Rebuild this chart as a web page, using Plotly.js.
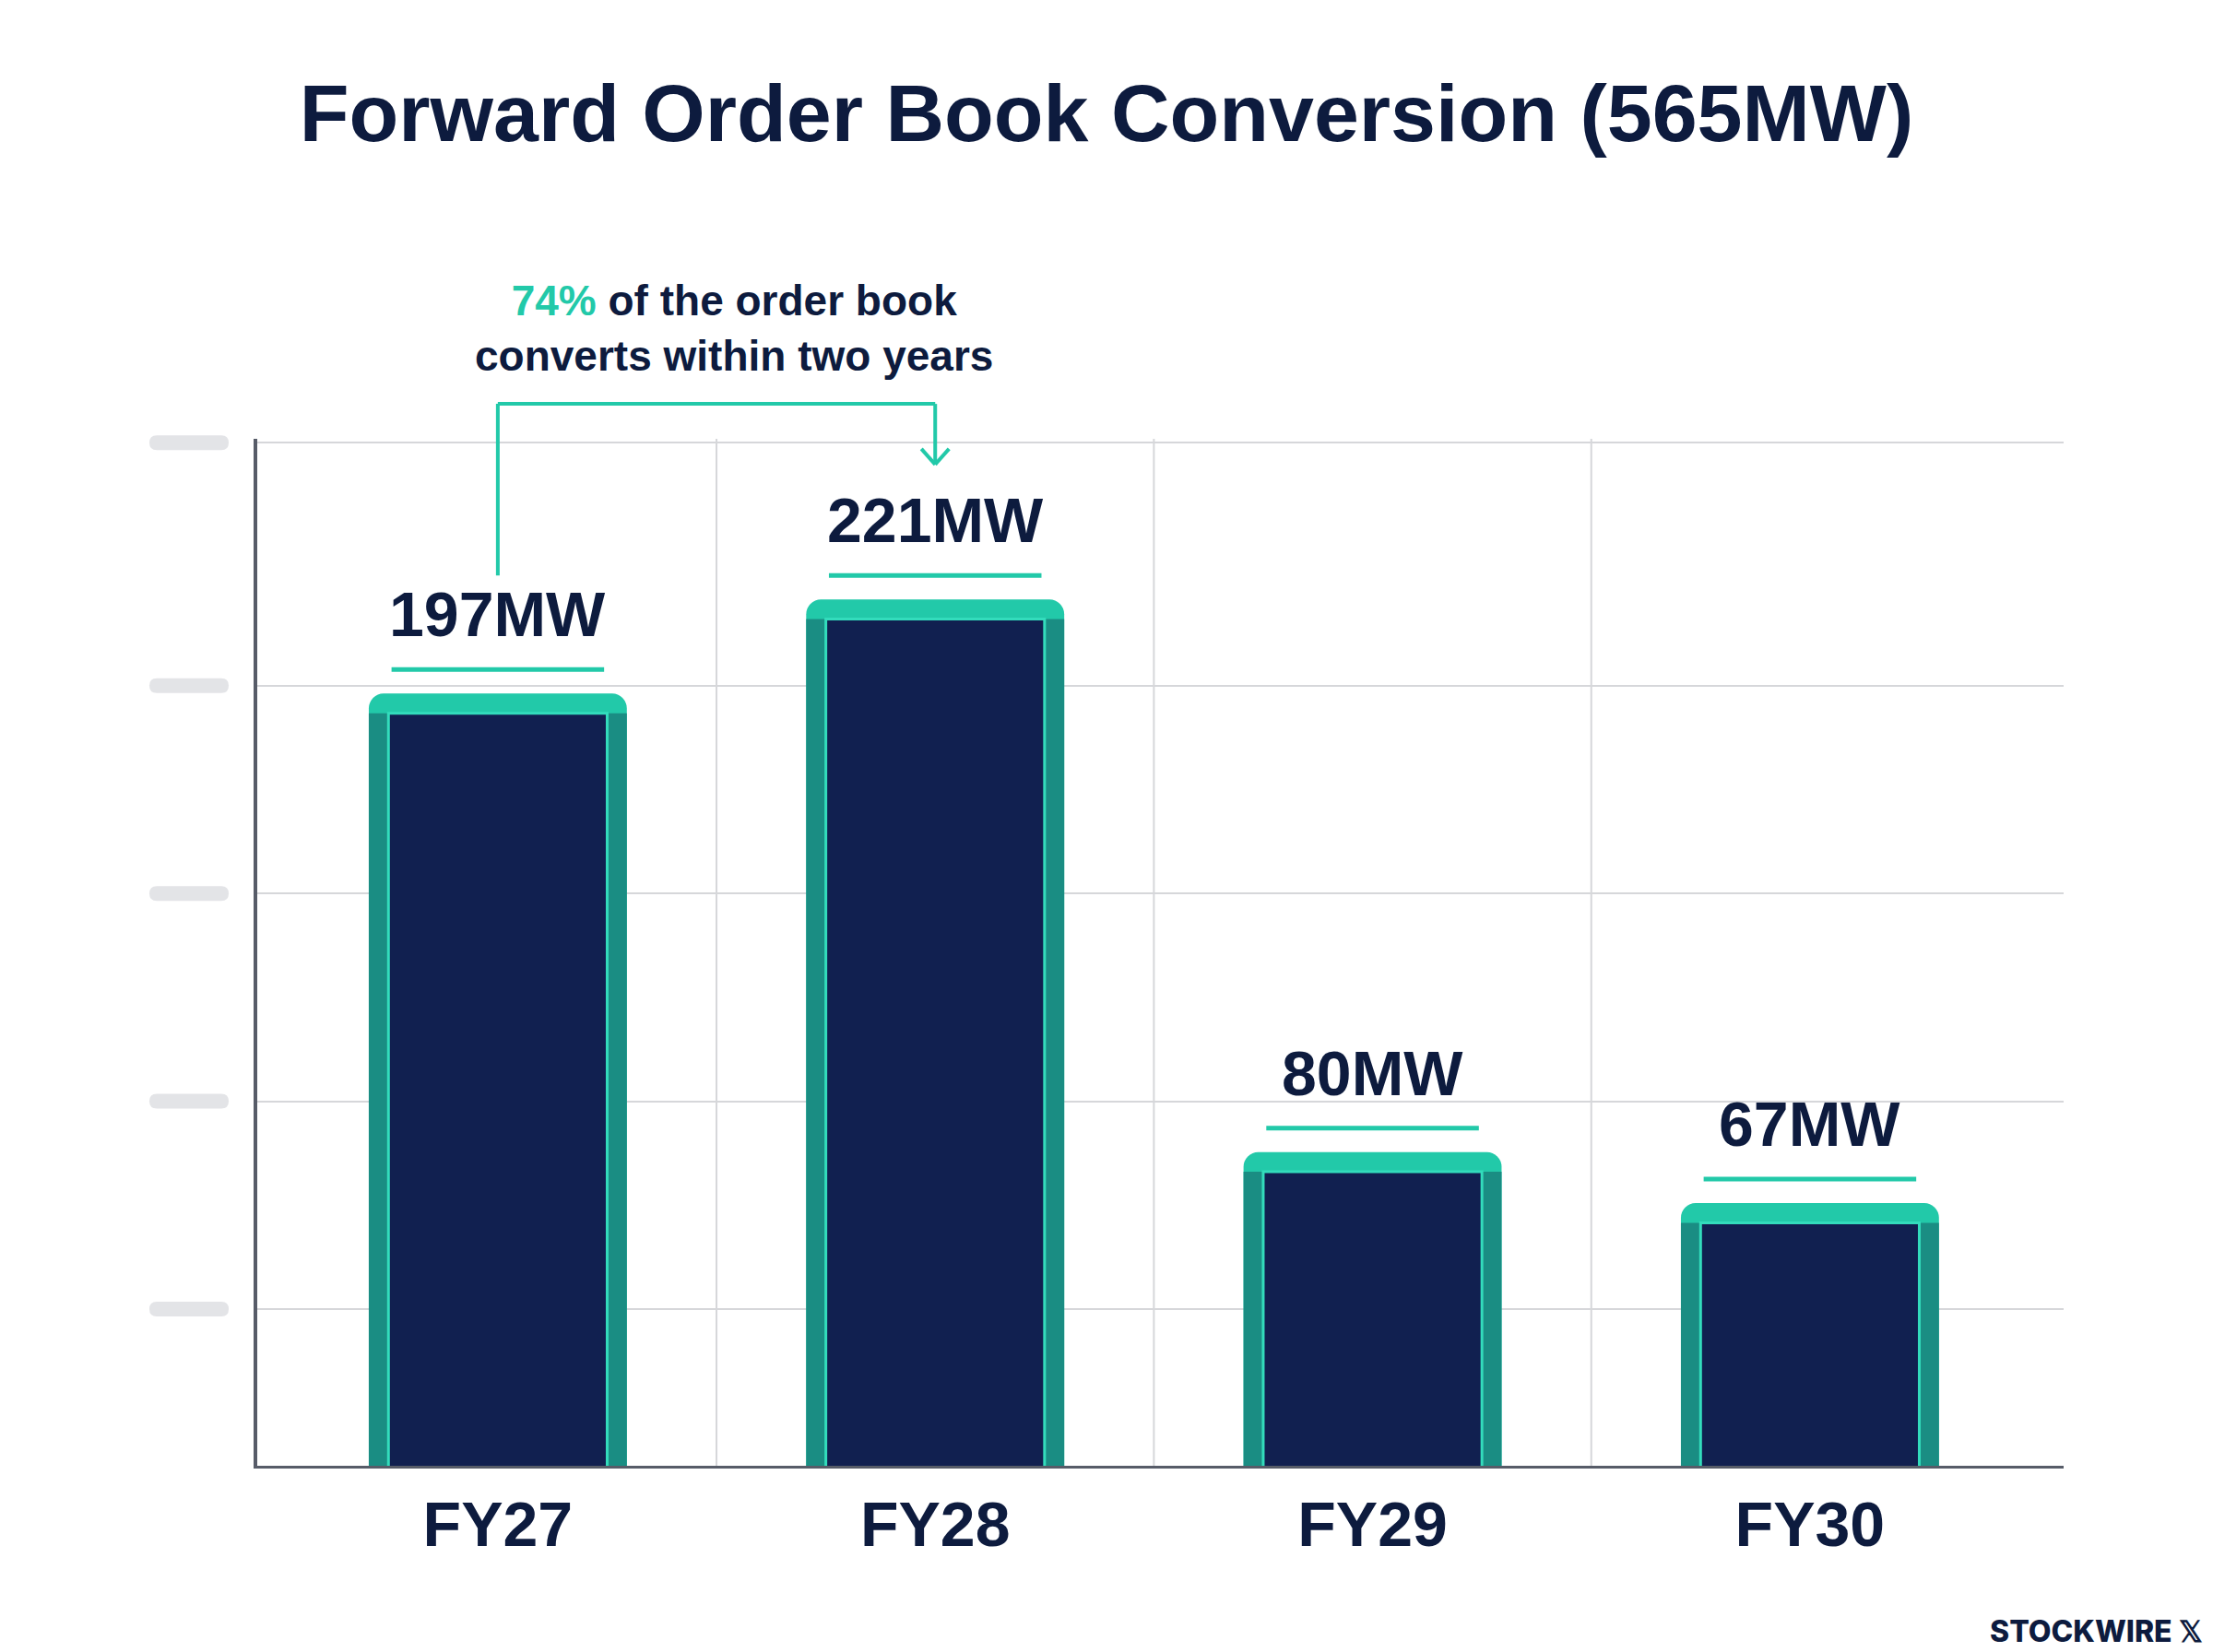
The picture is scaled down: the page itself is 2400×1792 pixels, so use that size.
<!DOCTYPE html>
<html>
<head>
<meta charset="utf-8">
<script src="https://cdn.plot.ly/plotly-3.0.1.min.js"></script>
<style>
  html, body { margin:0; padding:0; background:#ffffff; }
  #chart { width:2400px; height:1792px; }
</style>
</head>
<body>
<div id="chart"></div>
<script>
// ── Data ──────────────────────────────────────────────────────────────────────
const CATEGORIES  = ['FY27', 'FY28', 'FY29', 'FY30'];
const VALUES_MW   = [197, 221, 80, 67];
const GRID_VALUES = [40, 93, 146, 199, 261];   // unlabelled gridlines
const Y_MAX       = 262;
const CONVERT_N   = 2;                          // first two years

// ── Palette / fonts / bar styling ─────────────────────────────────────────────
const NAVY   = '#0d1b3e';
const BAR    = '#112050';
const TEAL   = '#22c9a9';
const TEAL_D = '#1a8d83';
const TEAL_L = '#33dcbc';
const GRID   = '#d6d7da';
const AXISC  = '#575c68';
const PILL   = '#e3e4e7';
const FONT   = 'Liberation Sans, Arial, Helvetica, sans-serif';
const CAP    = 5;          // teal cap thickness (MW units) drawn over each bar
const W_OUT  = 0.59;
const W_IN   = 0.50;

const total   = VALUES_MW.reduce((a, b) => a + b, 0);
const early   = VALUES_MW.slice(0, CONVERT_N).reduce((a, b) => a + b, 0);
const pct     = Math.round(early / total * 100);

// ── Traces: teal frame, darker side walls, navy face ──────────────────────────
const base = { type:'bar', x:CATEGORIES, y:VALUES_MW, hoverinfo:'skip', showlegend:false };
const traces = [
  { ...base, width:W_OUT, marker:{ color:TEAL, cornerradius:16, line:{ width:0 } } },
  { ...base, width:W_OUT, base:-CAP, marker:{ color:TEAL_D, line:{ width:0 } } },
  { ...base, width:W_IN,  base:-CAP, marker:{ color:BAR, line:{ color:TEAL_L, width:3 } } },
];

// ── Shapes: vertical grid, grey tick pills, label underlines, bracket ─────────
const shapes = [];

CATEGORIES.slice(0, -1).forEach((c, i) => {
  shapes.push({ type:'line', layer:'below', xref:'x', yref:'paper',
    x0:i + 0.5, x1:i + 0.5, y0:0, y1:1, line:{ color:GRID, width:2 } });
});

GRID_VALUES.forEach(v => {
  shapes.push({ type:'path', xref:'paper', yref:'paper',
    xsizemode:'pixel', ysizemode:'pixel', xanchor:0, yanchor:v / Y_MAX,
    path:'M -109,-8 L -39,-8 Q -31,-8 -31,0 Q -31,8 -39,8 L -109,8 Q -117,8 -117,0 Q -117,-8 -109,-8 Z',
    fillcolor:PILL, line:{ width:0 } });
});

VALUES_MW.forEach((v, i) => {
  shapes.push({ type:'line', xref:'x', yref:'y', ysizemode:'pixel', yanchor:v,
    x0:i - 0.243, x1:i + 0.243, y0:26, y1:26, line:{ color:TEAL, width:5 } });
});

// bracket from FY27 label to FY28 label
const BR = { lo:0.867, top:1.034, tip:0.975 };
const brLine = { color:TEAL, width:4 };
shapes.push(
  { type:'line', xref:'x', yref:'paper', x0:0, x1:0, y0:BR.lo, y1:BR.top, line:brLine },
  { type:'line', xref:'x', yref:'paper', x0:0, x1:CONVERT_N - 1, y0:BR.top, y1:BR.top, line:brLine },
  { type:'line', xref:'x', yref:'paper', x0:CONVERT_N - 1, x1:CONVERT_N - 1, y0:BR.top, y1:BR.tip, line:brLine },
  { type:'line', xref:'x', yref:'paper', xsizemode:'pixel', ysizemode:'pixel',
    xanchor:CONVERT_N - 1, yanchor:BR.tip, x0:-15, x1:0, y0:17, y1:0, line:brLine },
  { type:'line', xref:'x', yref:'paper', xsizemode:'pixel', ysizemode:'pixel',
    xanchor:CONVERT_N - 1, yanchor:BR.tip, x0:15, x1:0, y0:17, y1:0, line:brLine },
);

// ── Annotations ───────────────────────────────────────────────────────────────
const annotations = VALUES_MW.map((v, i) => ({
  x:CATEGORIES[i], y:v, xref:'x', yref:'y', yanchor:'middle', yshift:86,
  text:v + 'MW', showarrow:false,
  font:{ family:FONT, size:68, weight:700, color:NAVY },
}));

annotations.push({
  x:0.54, y:1.108, xref:'x', yref:'paper', xanchor:'center', yanchor:'middle',
  text:`<span style="color:${TEAL}">${pct}%</span> of the order book<br>converts within two years`,
  showarrow:false, align:'center',
  font:{ family:FONT, size:46, weight:700, color:NAVY },
});

annotations.push({
  x:1.078, y:-0.161, xref:'paper', yref:'paper', xanchor:'right', yanchor:'middle',
  text:'STOCKWIRE 𝕏', showarrow:false,
  font:{ family:'Inter, Roboto, sans-serif', size:32, weight:800, color:NAVY },
});

// ── Layout ────────────────────────────────────────────────────────────────────
const layout = {
  width:2400, height:1792,
  paper_bgcolor:'#ffffff', plot_bgcolor:'#ffffff',
  margin:{ l:279, r:162, t:476, b:202 },
  barmode:'overlay',
  title:{ text:`Forward Order Book Conversion (${total}MW)`,
    x:0.5, xanchor:'center', y:1 - 122 / 1792, yanchor:'middle', yref:'container',
    font:{ family:FONT, size:88, weight:700, color:NAVY } },
  xaxis:{ type:'category', range:[-0.55, 3.58], showgrid:false, zeroline:false,
    showline:true, linecolor:AXISC, linewidth:3, ticks:'',
    ticklabelstandoff:2,
    tickfont:{ family:FONT, size:68, weight:700, color:NAVY } },
  yaxis:{ range:[0, Y_MAX], tickvals:GRID_VALUES, showticklabels:false,
    showgrid:true, gridcolor:GRID, gridwidth:2, zeroline:false,
    showline:true, linecolor:AXISC, linewidth:4, ticks:'' },
  shapes, annotations,
  showlegend:false,
};

Plotly.newPlot('chart', traces, layout, { displayModeBar:false, responsive:false });
</script>
</body>
</html>
